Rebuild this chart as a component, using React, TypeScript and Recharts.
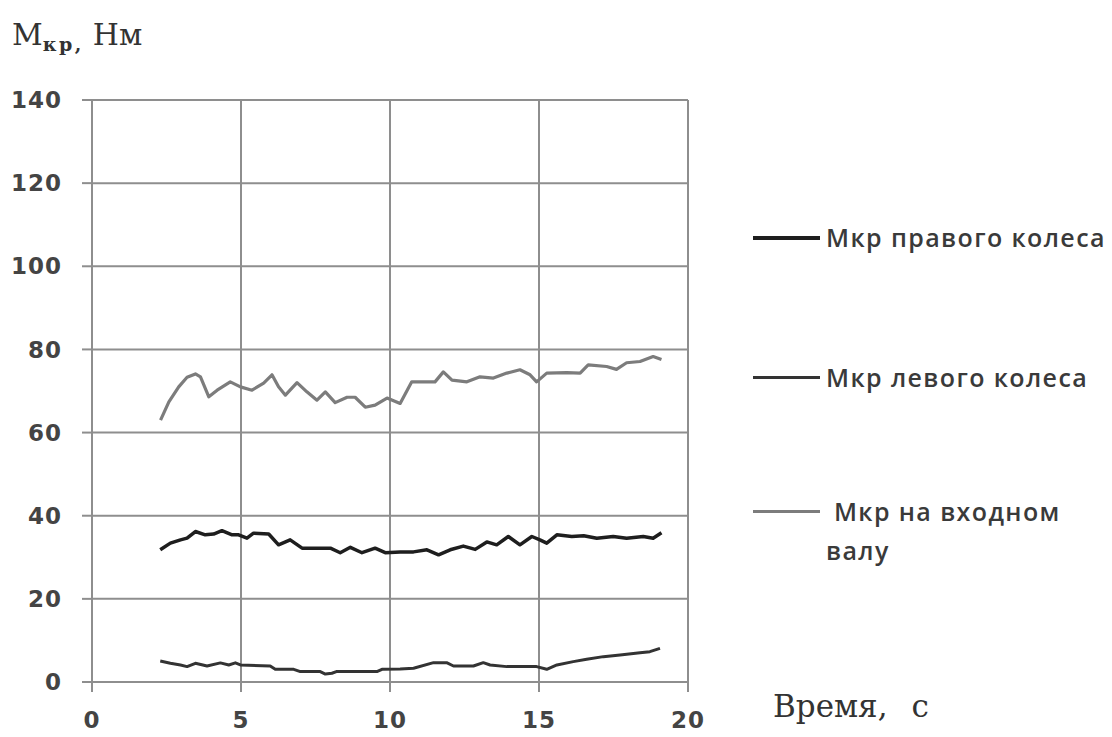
import { LineChart, Line, XAxis, YAxis, CartesianGrid, Legend } from 'recharts';

// time, s
const rightT = [2.29, 2.63, 2.97, 3.19, 3.47, 3.8, 4.08, 4.36, 4.7, 4.92, 5.2, 5.42, 5.93, 6.26, 6.65, 7.05, 8.0, 8.33, 8.67, 9.06, 9.5, 9.84, 10.34, 10.79, 11.24, 11.63, 12.02, 12.46, 12.86, 13.25, 13.58, 13.97, 14.36, 14.76, 15.03, 15.26, 15.6, 16.1, 16.5, 16.94, 17.49, 17.94, 18.5, 18.83, 19.11];
// torque, N·m
const rightM = [31.8, 33.4, 34.2, 34.6, 36.2, 35.4, 35.6, 36.4, 35.4, 35.4, 34.6, 35.8, 35.6, 33.0, 34.2, 32.2, 32.2, 31.1, 32.4, 31.1, 32.2, 31.1, 31.3, 31.3, 31.8, 30.6, 31.8, 32.7, 31.9, 33.7, 33.0, 35.0, 33.0, 35.0, 34.2, 33.4, 35.4, 35.0, 35.2, 34.6, 35.0, 34.6, 35.0, 34.6, 35.9];

const leftT = [2.29, 2.63, 2.97, 3.19, 3.47, 3.86, 4.31, 4.59, 4.81, 4.98, 5.98, 6.15, 6.77, 6.99, 7.66, 7.83, 8.05, 8.2, 9.56, 9.73, 10.34, 10.79, 11.46, 11.9, 12.13, 12.8, 13.13, 13.36, 13.92, 14.92, 15.26, 15.6, 16.15, 16.6, 17.16, 17.72, 18.39, 18.72, 19.06];
const leftM = [5.05, 4.5, 4.1, 3.7, 4.5, 3.85, 4.6, 4.1, 4.6, 4.1, 3.85, 3.05, 3.05, 2.5, 2.5, 1.9, 2.1, 2.5, 2.5, 3.05, 3.1, 3.3, 4.65, 4.65, 3.85, 3.85, 4.65, 4.1, 3.7, 3.7, 3.05, 4.1, 4.9, 5.45, 6.1, 6.5, 7.05, 7.3, 8.1];

const inputT = [2.3, 2.58, 2.91, 3.19, 3.47, 3.64, 3.92, 4.2, 4.64, 4.98, 5.37, 5.76, 6.04, 6.26, 6.49, 6.88, 7.21, 7.55, 7.83, 8.16, 8.56, 8.83, 9.17, 9.5, 9.9, 10.34, 10.73, 11.51, 11.79, 12.08, 12.58, 13.02, 13.47, 13.92, 14.36, 14.7, 14.92, 15.26, 15.93, 16.38, 16.65, 17.27, 17.6, 17.94, 18.39, 18.83, 19.11];
const inputM = [63.0, 67.4, 71.0, 73.3, 74.1, 73.4, 68.6, 70.2, 72.2, 71.0, 70.2, 71.9, 73.9, 71.0, 69.0, 72.0, 69.8, 67.8, 69.8, 67.2, 68.5, 68.5, 66.1, 66.6, 68.3, 67.0, 72.2, 72.2, 74.6, 72.6, 72.2, 73.4, 73.1, 74.3, 75.1, 73.9, 72.2, 74.3, 74.4, 74.3, 76.3, 75.9, 75.2, 76.8, 77.1, 78.3, 77.6];

const xTicks = [0, 5, 10, 15, 20];
const yTicks = [0, 20, 40, 60, 80, 100, 120, 140];

const toRows = (t: number[], m: number[]) => t.map((x, i) => ({ t: x, m: m[i] }));

const series = [
  { name: 'Мкр правого колеса', rows: toRows(rightT, rightM), color: '#1e1e1e', width: 3.5 },
  { name: 'Мкр левого колеса', rows: toRows(leftT, leftM), color: '#333333', width: 3 },
  { name: ' Мкр на входном\nвалу', rows: toRows(inputT, inputM), color: '#7c7c7c', width: 3.2 },
];

const gridColor = '#8e8e8e';
const tickStyle = { fontFamily: 'DejaVu Sans', fontWeight: 'bold', fontSize: 23, fill: '#444', letterSpacing: 1 };

const legendGaps = [0, 101, 95];

function renderLegend(props: any) {
  const items = [...(props.payload || [])].sort(
    (a: any, b: any) => series.findIndex((s) => s.name === a.value) - series.findIndex((s) => s.name === b.value),
  );
  return (
    <div style={{ fontFamily: '"Open Sans"', fontSize: 25, fontWeight: 600, color: '#3a3a3a', letterSpacing: 1.4 }}>
      {items.map((it: any, i: number) => (
        <div key={i} style={{ display: 'flex', alignItems: 'flex-start', marginTop: legendGaps[i] }}>
          <div style={{ width: 67, height: i === 0 ? 4 : 3, background: it.color, marginTop: 18, marginRight: 6 }} />
          <div style={{ whiteSpace: 'pre', lineHeight: '39px' }}>{it.value}</div>
        </div>
      ))}
    </div>
  );
}

export default function App() {
  return (
    <div style={{ position: 'absolute', left: 0, top: 0, width: 1112, height: 737, background: '#fff' }}>
      <LineChart width={1112} height={737} margin={{ top: 100, right: 424, bottom: 5, left: 22 }}>
        <CartesianGrid stroke={gridColor} strokeWidth={2} />
        <XAxis
          type="number"
          dataKey="t"
          domain={[0, 20]}
          ticks={xTicks}
          height={50}
          stroke={gridColor}
          strokeWidth={2}
          tickSize={10}
          tickMargin={20}
          tick={tickStyle}
          allowDuplicatedCategory={false}
          label={{
            content: () => (
              <text x={773} y={717} fontFamily="DejaVu Serif" fontSize={31} fill="#333">
                Время,<tspan dx={24}>с</tspan>
              </text>
            ),
          }}
        />
        <YAxis
          type="number"
          domain={[0, 140]}
          ticks={yTicks}
          width={70}
          stroke={gridColor}
          strokeWidth={2}
          tickSize={10}
          tickMargin={20}
          tick={tickStyle}
          label={{
            content: () => (
              <text x={12} y={45} fontFamily="DejaVu Serif" fontSize={30} fill="#333">
                М
                <tspan dy={6} fontSize={19} fontWeight="bold" letterSpacing={2.5}>кр,</tspan>
                <tspan dy={-6} dx={9} fontSize={30}>Нм</tspan>
              </text>
            ),
          }}
        />
        <Legend
          content={renderLegend}
          layout="vertical"
          verticalAlign="middle"
          align="center"
          wrapperStyle={{ left: 753, top: 218, width: 359 }}
        />
        {series.map((s) => (
          <Line
            key={s.name}
            data={s.rows}
            dataKey="m"
            name={s.name}
            type="linear"
            stroke={s.color}
            strokeWidth={s.width}
            strokeLinejoin="round"
            dot={false}
            isAnimationActive={false}
          />
        ))}
      </LineChart>
    </div>
  );
}
